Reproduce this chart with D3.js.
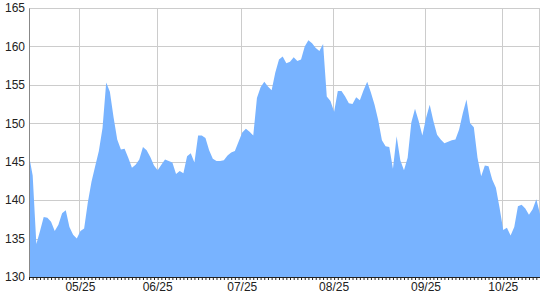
<!DOCTYPE html>
<html>
<head>
<meta charset="utf-8">
<script src="https://cdn.jsdelivr.net/npm/d3@7"></script>
<style>
  body { margin: 0; background: #fff; }
  svg text { font-family: "Liberation Sans", Arial, sans-serif; font-size: 12px; fill: #222; }
</style>
</head>
<body>
<div id="chart"></div>
<script>
// daily closing values
const values = [
  145.8, 143.2, 134.3, 136.0, 137.8, 137.7, 137.2, 136.0, 136.8, 138.3,
  138.7, 136.5, 135.5, 135.0, 136.0, 136.3, 139.7, 142.4, 144.4, 146.4,
  149.4, 155.3, 154.1, 150.8, 147.9, 146.6, 146.7, 145.5, 144.2, 144.6,
  145.3, 146.9, 146.5, 145.6, 144.5, 143.9, 144.6, 145.3, 145.1, 144.9,
  143.4, 143.8, 143.5, 145.7, 146.1, 144.9, 148.4, 148.4, 148.1, 146.5,
  145.4, 145.1, 145.1, 145.2, 145.8, 146.2, 146.4, 147.6, 148.8, 149.3,
  148.9, 148.4, 153.3, 154.7, 155.4, 154.8, 154.3, 156.6, 158.3, 158.7,
  157.8, 158.0, 158.6, 158.1, 158.3, 160.0, 160.8, 160.4, 159.8, 159.4,
  160.3, 153.5, 152.9, 151.5, 154.2, 154.2, 153.5, 152.6, 152.5, 153.4,
  153.0, 154.3, 155.4, 154.0, 152.4, 150.4, 147.8, 147.0, 146.9, 144.1,
  148.3, 145.2, 143.9, 145.5, 150.1, 151.9, 150.3, 148.4, 150.7, 152.4,
  150.3, 148.5, 147.9, 147.4, 147.6, 147.8, 147.9, 149.2, 151.3, 153.1,
  150.0, 149.5, 145.5, 143.1, 144.5, 144.4, 142.7, 141.6, 139.0, 136.1,
  136.4, 135.4, 136.5, 139.2, 139.4, 138.9, 138.1, 138.8, 140.1, 138.2
];

const tickLabels = ["05/25", "06/25", "07/25", "08/25", "09/25", "10/25"];
const tickIndex = [14, 35, 58, 83, 108, 129];
const yTicks = [130, 135, 140, 145, 150, 155, 160, 165];

const width = 540, height = 300;
const margin = { top: 8, right: 0, bottom: 23, left: 29 };
const plotW = width - margin.left - margin.right;
const plotH = height - margin.top - margin.bottom;

const svg = d3.select("#chart").append("svg")
  .attr("width", width)
  .attr("height", height);

const g = svg.append("g")
  .attr("transform", `translate(${margin.left},${margin.top})`);

const x = d3.scaleLinear().domain([0, values.length - 1]).range([0, plotW]);
const y = d3.scaleLinear().domain([130, 165]).range([plotH, 0]);

// grid
g.append("g")
  .selectAll("line")
  .data(yTicks.slice(1))
  .join("line")
  .attr("x1", 0).attr("x2", plotW)
  .attr("y1", d => Math.round(y(d)) + 0.5).attr("y2", d => Math.round(y(d)) + 0.5)
  .attr("stroke", "#cccccc");

g.append("g")
  .selectAll("line")
  .data(tickIndex.concat([values.length - 1]))
  .join("line")
  .attr("x1", d => Math.round(x(d)) - 0.5).attr("x2", d => Math.round(x(d)) - 0.5)
  .attr("y1", 0).attr("y2", plotH)
  .attr("stroke", "#cccccc");

// area
const area = d3.area()
  .x((d, i) => x(i))
  .y0(y(130))
  .y1(d => y(d));

g.append("path")
  .datum(values)
  .attr("d", area)
  .attr("fill", "#78b3ff");

// y axis
const yAxis = g.append("g")
  .call(d3.axisLeft(y).tickValues(yTicks).tickSize(0).tickPadding(4));
yAxis.select(".domain").attr("stroke", "#888");
yAxis.selectAll("text").style("font-size", "12px").attr("fill", "#222");

// x axis: one tick per day, labels on the month marks
const xAxis = g.append("g")
  .attr("transform", `translate(0,${plotH})`)
  .call(d3.axisBottom(x).tickValues(d3.range(values.length)).tickSize(3).tickFormat(""));
xAxis.select(".domain").attr("stroke", "#222").attr("d", `M0.5,0.5H${plotW}`);
xAxis.selectAll(".tick line").attr("stroke", "#222");

g.append("g")
  .attr("transform", `translate(0,${plotH})`)
  .selectAll("text")
  .data(tickIndex)
  .join("text")
  .attr("x", d => x(d))
  .attr("y", 14)
  .attr("text-anchor", "middle")
  .text((d, i) => tickLabels[i]);
</script>
</body>
</html>
